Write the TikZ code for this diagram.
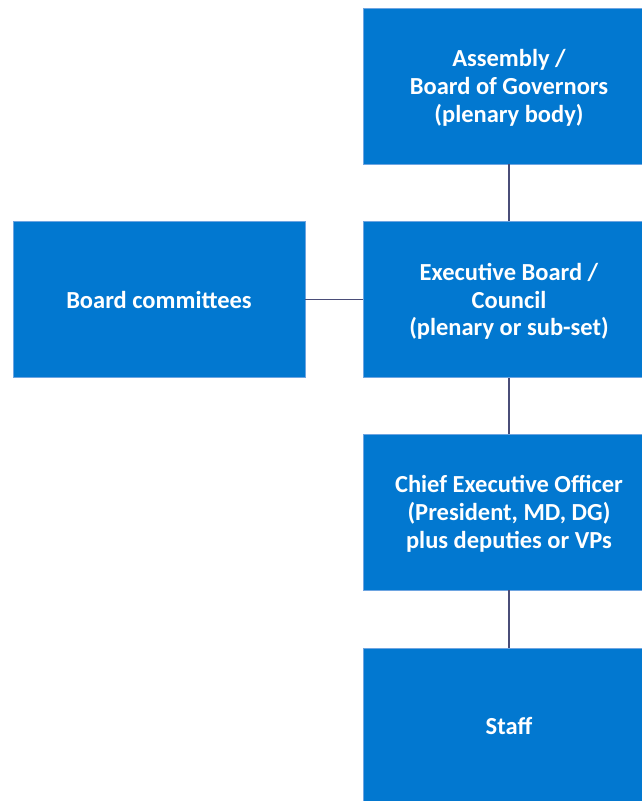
\documentclass[tikz,border=0pt]{standalone}
\usepackage{fontspec}
\setmainfont{Carlito}
\definecolor{boxblue}{RGB}{2,120,208}
\definecolor{boxedge}{RGB}{110,165,225}
\definecolor{linkcol}{RGB}{74,77,120}
\begin{document}
\begin{tikzpicture}[x=1pt,y=-1pt,
  orgbox/.style={rectangle, fill=boxblue, draw=boxedge, line width=0.6pt,
    minimum width=292pt, minimum height=156pt, inner sep=0pt,
    text=white, align=center,
    font=\fontsize{24.5}{27.8}\selectfont\bfseries},
  multiline/.style={text depth=0pt},
  link/.style={draw=linkcol, line width=1.3pt}]
\useasboundingbox (0,0) rectangle (642,801);
\clip (0,0) rectangle (642,801);
\fill[white] (0,0) rectangle (642,801);
\node[orgbox, multiline] (assembly) at (509,86) {Assembly /\\Board of Governors\\(plenary body)};
\node[orgbox, multiline] (exec) at (509,299.5) {Executive Board /\\Council\\(plenary or sub-set)};
\node[orgbox] (committees) at (159,299.5) {Board committees};
\node[orgbox, multiline] (ceo) at (509,512) {Chief Executive Officer\\(President, MD, DG)\\plus deputies or VPs};
\node[orgbox] (staff) at (509,726) {Staff};
\draw[link] (assembly.south) -- (exec.north);
\draw[link] (committees.east) -- (exec.west);
\draw[link] (exec.south) -- (ceo.north);
\draw[link] (ceo.south) -- (staff.north);
\end{tikzpicture}
\end{document}
